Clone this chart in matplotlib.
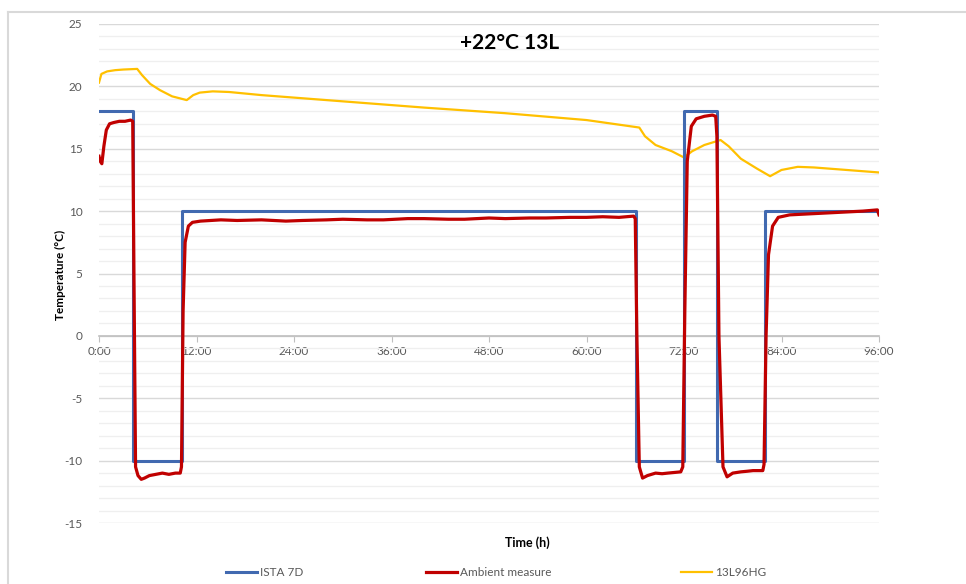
import matplotlib
matplotlib.use("Agg")
import matplotlib.pyplot as plt
from matplotlib.lines import Line2D
from matplotlib.ticker import MultipleLocator, FuncFormatter

plt.rcParams['font.family'] = ['Lato', 'DejaVu Sans']
plt.rcParams['axes.unicode_minus'] = False

# ISTA 7D profile (step changes, time in hours)
ista_t = [0, 4.2, 10.2, 66.1, 72.0, 76.1, 82.0, 96]
ista_v = [18, -10, 10, -10, 18, -10, 10, 10]

# Ambient measure
amb_t = [0, 0.15, 0.35, 0.6, 0.9, 1.3, 1.8, 2.5, 3.2, 3.9, 4.15, 4.3, 4.5, 4.8, 5.2,
         5.6, 6.2, 7.0, 7.8, 8.6, 9.4, 10.0, 10.15, 10.35, 10.6, 11.0, 11.5, 12.5,
         15, 17, 20, 23, 25, 28, 30, 33, 35, 38, 40, 43, 45, 48, 50, 53, 55, 58, 60,
         62, 64, 65.8, 66.0, 66.2, 66.5, 66.9, 67.5, 68.5, 69.3, 70, 70.8, 71.6,
         71.85, 72.1, 72.4, 72.9, 73.5, 74.5, 75.5, 75.9, 76.05, 76.3, 76.8, 77.3,
         78, 79, 79.8, 80.5, 81.7, 81.85, 82.1, 82.4, 82.9, 83.6, 85, 86.5, 88,
         89.5, 91, 92.5, 94, 95.8, 96]
amb_v = [14.4, 14.0, 13.8, 15.2, 16.5, 17.0, 17.1, 17.2, 17.2, 17.3, 17.2, 5.0,
         -10.5, -11.2, -11.5, -11.4, -11.2, -11.1, -11.0, -11.1, -11.0, -11.0,
         -10.5, 2.0, 7.5, 8.8, 9.1, 9.2, 9.3, 9.25, 9.3, 9.2, 9.25, 9.3, 9.35, 9.3,
         9.3, 9.4, 9.4, 9.35, 9.35, 9.45, 9.4, 9.45, 9.45, 9.5, 9.5, 9.55, 9.5, 9.6,
         9.4, 0.0, -10.5, -11.4, -11.2, -11.0, -11.05, -11.0, -10.95, -10.9, -10.5,
         2.0, 14.0, 16.8, 17.4, 17.6, 17.7, 17.6, 16.0, 0.0, -10.5, -11.3, -11.0,
         -10.9, -10.85, -10.8, -10.8, -10.3, 0.0, 6.5, 8.8, 9.5, 9.7, 9.75, 9.8,
         9.85, 9.9, 9.95, 10.0, 10.1, 9.7]

# 13L96HG
yel_t = [0, 0.3, 1, 2, 3, 4.7, 5.3, 6.3, 7.5, 9, 10.8, 11.6, 12.4, 14, 16, 20, 30,
         40, 50, 60, 66.5, 67.2, 68.5, 70.5, 72, 73, 74.5, 76.5, 77.5, 79, 81,
         82.6, 84, 86, 88, 92, 96]
yel_v = [20.3, 21.0, 21.2, 21.3, 21.35, 21.4, 20.9, 20.2, 19.7, 19.2, 18.9, 19.3,
         19.5, 19.6, 19.55, 19.3, 18.8, 18.3, 17.85, 17.3, 16.7, 16.0, 15.3, 14.8,
         14.3, 14.8, 15.3, 15.7, 15.2, 14.2, 13.4, 12.8, 13.3, 13.55, 13.5, 13.3,
         13.1]

GREY = '#595959'

fig = plt.figure(figsize=(9.66, 5.84), dpi=100)
ax = fig.add_axes([99 / 966, 1 - 523 / 584, 780 / 966, 499 / 584])

# light frame of the chart object (left + top edges)
fig.add_artist(Line2D([8 / 966, 8 / 966], [0, 1 - 12 / 584], transform=fig.transFigure,
                      color='#d9d9d9', lw=1.5))
fig.add_artist(Line2D([8 / 966, 1], [1 - 12 / 584, 1 - 12 / 584], transform=fig.transFigure,
                      color='#d9d9d9', lw=1.5))

l_ista, = ax.plot(ista_t, ista_v, drawstyle='steps-post', color='#4169b0', lw=2.2, zorder=3)
l_amb, = ax.plot(amb_t, amb_v, color='#c00000', lw=2.3, zorder=4)
l_yel, = ax.plot(yel_t, yel_v, color='#ffc000', lw=1.6, zorder=2)

ax.set_xlim(0, 96)
ax.set_ylim(-15, 25)
ax.yaxis.set_major_locator(MultipleLocator(5))
ax.yaxis.set_minor_locator(MultipleLocator(1))
ax.xaxis.set_major_locator(MultipleLocator(12))
ax.xaxis.set_major_formatter(FuncFormatter(lambda v, p: f"{int(v)}:00"))
ax.grid(which='major', axis='y', color='#d9d9d9', lw=1.0, zorder=0)
ax.grid(which='minor', axis='y', color='#efefef', lw=0.9, zorder=0)
ax.set_axisbelow(True)

for s in ['top', 'right', 'left']:
    ax.spines[s].set_visible(False)
ax.spines['bottom'].set_position(('data', 0))
ax.spines['bottom'].set_color('#bfbfbf')
ax.spines['bottom'].set_linewidth(1.2)
ax.tick_params(axis='x', colors='#bfbfbf', labelcolor=GREY, labelsize=8.5, length=4, pad=3)
ax.tick_params(axis='y', which='both', length=0, labelcolor=GREY, labelsize=8.5, pad=12)

ax.text(0.527, 0.962, "+22°C 13L", transform=ax.transAxes, ha='center', va='center',
        fontsize=15, fontweight='bold', color='black')

fig.text(60 / 966, 1 - 275 / 584, "Temperature (°C)", rotation=90, ha='center', va='center',
         fontsize=8.5, fontweight='bold')
fig.text(527 / 966, 1 - 543 / 584, "Time (h)", ha='center', va='center',
         fontsize=9, fontweight='bold')

# legend entries placed individually along the bottom
for h, lab, x0 in [(l_ista, "ISTA 7D", 226), (l_amb, "Ambient measure", 426),
                   (l_yel, "13L96HG", 681)]:
    fig.legend(handles=[h], labels=[lab], loc='center left',
               bbox_to_anchor=(x0 / 966, 1 - 573 / 584), frameon=False,
               handlelength=2.6, handletextpad=0.25, borderpad=0, borderaxespad=0,
               prop={'size': 8.5}, labelcolor=GREY)

fig.savefig("out.png", dpi=100)
